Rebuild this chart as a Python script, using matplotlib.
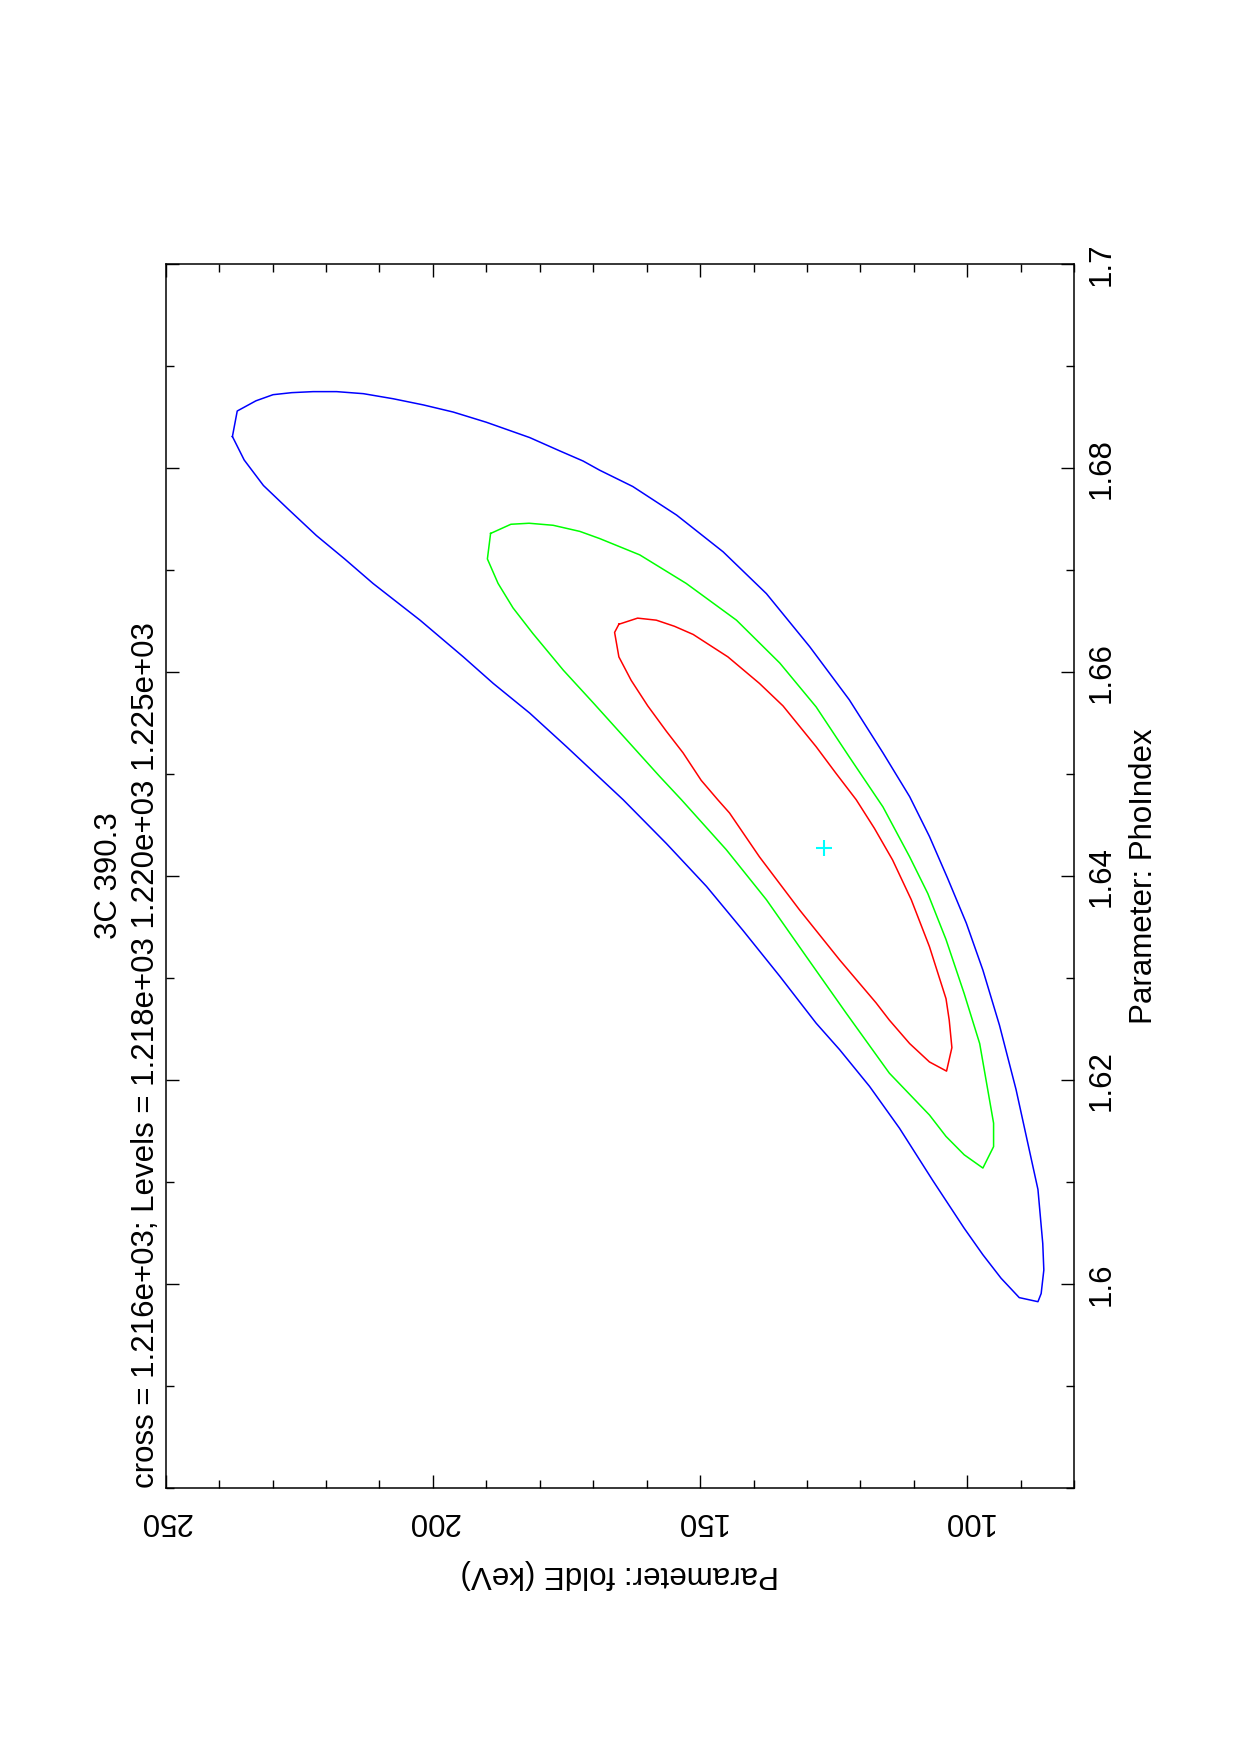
import matplotlib
matplotlib.use("Agg")
import matplotlib.pyplot as plt
from matplotlib.ticker import MultipleLocator

plt.rcParams['font.family'] = ['Liberation Sans', 'DejaVu Sans']

# contour levels (foldE in keV, PhoIndex)
blue_foldE = [237.5,236.6,233.1,229.9,226.4,222.4,218.0,213.0,207.4,201.8,196.2,190.0,181.9,176.3,171.9,168.8,162.6,154.4,145.7,137.6,
              129.5,122.1,115.8,110.8,107.1,103.7,100.2,97.1,94.0,90.9,86.8,85.9,85.7,86.2,86.8,90.3,93.7,97.1,100.6,
              106.5,112.7,118.3,123.9,128.3,135.1,142.0,148.8,156.3,164.4,175.0,181.9,188.7,194.3,202.4,211.2,216.5,221.8,227.1,231.7,235.3]
blue_index = [1.6831,1.6856,1.6866,1.6872,1.6874,1.6875,1.6875,1.6873,1.6868,1.6862,1.6855,1.6845,1.6830,1.6817,1.6807,1.6798,1.6782,1.6754,1.6718,1.6677,
              1.6625,1.6573,1.6521,1.6478,1.6439,1.6398,1.6354,1.6308,1.6254,1.6191,1.6093,1.6040,1.6014,1.5991,1.5983,1.5987,1.6006,1.6029,1.6055,
              1.6102,1.6153,1.6194,1.6230,1.6256,1.6302,1.6347,1.6390,1.6432,1.6475,1.6527,1.6560,1.6589,1.6615,1.6651,1.6687,1.6711,1.6734,1.6760,1.6783,1.6808]

green_foldE = [189.2,185.4,182.0,177.5,172.5,168.8,161.3,152.6,143.2,135.1,128.3,122.1,115.8,110.8,107.4,104.0,100.6,97.7,96.2,95.1,
               95.1,97.1,100.6,104.0,107.1,114.6,122.7,130.1,137.6,145.1,153.5,157.6,163.8,170.0,175.6,181.3,185.0,187.8,189.8]
green_index = [1.6736,1.6745,1.6746,1.6744,1.6738,1.6731,1.6715,1.6687,1.6651,1.6609,1.6566,1.6517,1.6468,1.6419,1.6383,1.6338,1.6285,1.6236,1.6191,1.6158,
               1.6135,1.6114,1.6127,1.6145,1.6166,1.6207,1.6266,1.6321,1.6377,1.6426,1.6475,1.6498,1.6534,1.6570,1.6602,1.6638,1.6663,1.6687,1.6711]

red_foldE = [165.2,161.7,158.2,154.8,151.3,144.8,138.9,134.5,128.3,124.6,120.8,117.4,114.0,110.5,107.1,104.0,103.4,102.9,103.9,
             107.1,110.8,114.6,117.1,123.9,131.4,138.9,144.5,146.7,149.8,153.2,156.3,159.8,162.9,165.2,166.0]
red_index = [1.6647,1.6653,1.6651,1.6645,1.6637,1.6615,1.6589,1.6567,1.6527,1.6501,1.6475,1.6447,1.6416,1.6377,1.6331,1.6280,1.6259,1.6232,1.6209,
             1.6218,1.6236,1.6259,1.6276,1.6318,1.6367,1.6419,1.6462,1.6475,1.6494,1.6521,1.6542,1.6567,1.6592,1.6615,1.6639]

best_foldE = 126.9
best_index = 1.6428

foldE_ticks = [100, 150, 200, 250]
index_ticks = [1.6, 1.62, 1.64, 1.66, 1.68, 1.7]
index_labels = ["1.6", "1.62", "1.64", "1.66", "1.68", "1.7"]

title = "3C 390.3"
subtitle = "cross = 1.216e+03; Levels = 1.218e+03 1.220e+03 1.225e+03"

W, H = 1240, 1755
fs = 22.5
fig = plt.figure(figsize=(W/100, H/100), dpi=100)
# page is rotated: foldE runs along the bottom (reversed), PhoIndex up the right side
x0, x1, y0, y1 = 165.6, 1074.3, 264.1, 1488.4
ax = fig.add_axes([x0/W, 1-y1/H, (x1-x0)/W, (y1-y0)/H])

def closed(a):
    return list(a) + [a[0]]

ax.plot(closed(blue_foldE), closed(blue_index), color=(0,0,1), lw=1.1)
ax.plot(closed(green_foldE), closed(green_index), color=(0,1,0), lw=1.1)
ax.plot(closed(red_foldE), closed(red_index), color=(1,0,0), lw=1.1)
ax.plot([best_foldE], [best_index], marker='+', color=(0,1,1), ms=11.5, mew=1.5, ls='none')

ax.set_xlim(250, 80)
ax.set_ylim(1.58, 1.7)
ax.set_xticks(foldE_ticks)
ax.set_xticklabels([str(t) for t in foldE_ticks])
ax.xaxis.set_minor_locator(MultipleLocator(10))
ax.set_yticks(index_ticks)
ax.set_yticklabels(index_labels)
ax.yaxis.set_minor_locator(MultipleLocator(0.01))

for s in ax.spines.values():
    s.set_linewidth(1.1)
ax.tick_params(which='both', direction='in', top=True, bottom=True, left=True, right=True, width=1.0)
ax.tick_params(which='major', length=9.4)
ax.tick_params(which='minor', length=5.5)
ax.tick_params(axis='x', labelrotation=180, labelsize=fs, pad=13)
ax.tick_params(axis='y', labelleft=False, labelright=True, labelrotation=90, labelsize=fs, pad=9)
for lab in ax.get_yticklabels():
    lab.set_verticalalignment('center')

ax.set_xlabel("Parameter: foldE (keV)", rotation=180, fontsize=fs, labelpad=16)
ax.yaxis.set_label_position('right')
ax.set_ylabel("Parameter: PhoIndex", rotation=90, fontsize=fs, labelpad=9)

fig.text(109/W, 1-876/H, title, rotation=90, ha='center', va='center', fontsize=fs)
fig.text(146/W, 1-y1/H, subtitle, rotation=90, ha='center', va='bottom', fontsize=fs)

fig.savefig("out.png", dpi=100)
